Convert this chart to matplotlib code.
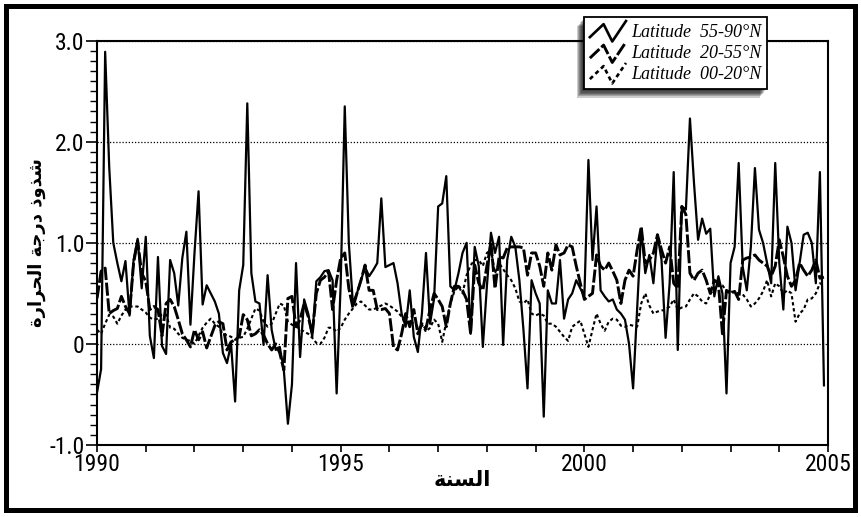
import matplotlib
matplotlib.use('Agg')
import matplotlib.pyplot as plt
import numpy as np
from matplotlib.lines import Line2D
from matplotlib.legend_handler import HandlerBase
from matplotlib.patches import Rectangle, Shadow
from matplotlib.ticker import FixedLocator, MultipleLocator
from matplotlib.font_manager import FontProperties

# ---------------- data (monthly anomalies, Jan 1990 - Dec 2004) ----------------
start_year = 1990
months_per_year = 12

lat_55_90 = [
    -0.48, -0.25, 2.89, 1.75, 1.00, 0.80, 0.62, 0.82, 0.28, 0.83, 1.04, 0.55,
    1.06, 0.08, -0.14, 0.86, -0.02, -0.10, 0.83, 0.70, 0.38, 0.85, 1.11, 0.19,
    0.90, 1.51, 0.39, 0.58, 0.50, 0.42, 0.30, -0.09, -0.19, 0.00, -0.57, 0.53,
    0.78, 2.38, 0.70, 0.42, 0.40, -0.01, 0.68, 0.14, -0.06, -0.03, -0.26, -0.79,
    -0.40, 0.80, -0.13, 0.44, 0.30, 0.07, 0.62, 0.66, 0.72, 0.73, 0.63, -0.49,
    0.60, 2.35, 1.00, 0.40, 0.50, 0.63, 0.76, 0.67, 0.73, 0.80, 1.44, 0.76,
    0.78, 0.80, 0.60, 0.30, 0.17, 0.53, 0.07, -0.08, 0.30, 0.90, 0.20, 0.45,
    1.36, 1.39, 1.66, 0.57, 0.53, 0.70, 0.90, 1.00, 0.10, 0.96, 0.77, -0.03,
    0.57, 1.10, 0.90, 1.06, -0.01, 0.83, 1.06, 0.96, 0.63, 0.14, -0.44, 0.63,
    0.50, 0.40, -0.72, 0.53, 0.40, 0.40, 0.83, 0.25, 0.44, 0.50, 0.63, 0.55,
    0.47, 1.82, 0.83, 1.36, 0.53, 0.47, 0.42, 0.44, 0.34, 0.30, 0.24, 0.00,
    -0.44, 0.34, 1.14, 0.70, 0.88, 0.60, 1.08, 0.83, 0.06, 0.60, 1.70, -0.06,
    1.36, 1.33, 2.23, 1.59, 1.03, 1.24, 1.09, 1.14, 0.47, 0.67, 0.50, -0.49,
    0.80, 0.96, 1.79, 0.76, 0.53, 0.96, 1.74, 1.13, 1.00, 0.80, 0.60, 1.79,
    0.80, 0.34, 1.16, 1.00, 0.53, 0.80, 1.08, 1.10, 1.00, 0.60, 1.70, -0.41,
]

lat_20_55 = [
    0.45, 0.72, 0.75, 0.30, 0.33, 0.35, 0.47, 0.37, 0.30, 0.80, 1.02, 0.70,
    0.62, 0.34, 0.37, 0.34, 0.08, 0.40, 0.44, 0.37, 0.24, 0.10, 0.04, -0.03,
    0.14, 0.04, 0.12, -0.04, 0.07, 0.18, 0.22, 0.20, -0.06, 0.02, 0.04, 0.07,
    0.29, 0.24, 0.08, 0.10, 0.14, 0.09, 0.00, -0.06, 0.00, -0.09, -0.26, 0.45,
    0.47, 0.17, 0.24, 0.40, 0.27, 0.10, 0.50, 0.63, 0.66, 0.72, 0.34, 0.63,
    0.85, 0.90, 0.55, 0.36, 0.50, 0.63, 0.78, 0.53, 0.53, 0.34, 0.34, 0.35,
    0.30, -0.03, -0.06, 0.10, 0.30, 0.17, 0.34, 0.10, 0.20, 0.15, 0.34, 0.50,
    0.44, 0.37, 0.17, 0.40, 0.57, 0.57, 0.53, 0.44, 0.10, 0.78, 0.60, 0.53,
    0.77, 1.00, 0.55, 0.86, 0.85, 0.95, 0.96, 0.96, 0.96, 0.95, 0.68, 0.90,
    0.90, 0.77, 0.57, 0.90, 0.73, 0.98, 0.88, 0.90, 0.98, 0.96, 0.77, 0.60,
    0.44, 0.47, 0.50, 0.88, 0.77, 0.73, 0.80, 0.72, 0.63, 0.40, 0.63, 0.73,
    0.67, 0.93, 1.16, 0.80, 0.83, 0.90, 1.08, 0.93, 0.80, 0.96, 0.60, 0.55,
    1.36, 1.28, 0.70, 0.63, 0.70, 0.73, 0.63, 0.50, 0.63, 0.60, 0.10, 0.53,
    0.50, 0.52, 0.44, 0.83, 0.85, 0.86, 0.88, 0.83, 0.80, 0.77, 0.67, 0.77,
    1.03, 0.86, 0.67, 0.57, 0.63, 0.80, 0.73, 0.67, 0.73, 0.83, 0.65, 0.66,
]

lat_00_20 = [
    0.14, 0.10, 0.20, 0.29, 0.27, 0.20, 0.28, 0.34, 0.37, 0.37, 0.37, 0.34,
    0.31, 0.26, 0.24, 0.25, 0.29, 0.29, 0.16, 0.15, 0.10, 0.06, 0.04, 0.03,
    0.00, 0.08, 0.16, 0.21, 0.25, 0.20, 0.17, 0.09, 0.09, 0.07, 0.04, 0.06,
    0.07, 0.15, 0.25, 0.35, 0.33, 0.22, 0.17, 0.20, 0.30, 0.40, 0.38, 0.22,
    0.19, 0.17, 0.15, 0.12, 0.10, 0.06, 0.01, 0.00, 0.06, 0.16, 0.16, 0.12,
    0.16, 0.24, 0.30, 0.35, 0.40, 0.42, 0.38, 0.34, 0.34, 0.36, 0.38, 0.40,
    0.38, 0.35, 0.32, 0.27, 0.20, 0.23, 0.20, 0.17, 0.19, 0.12, 0.16, 0.24,
    0.20, 0.02, 0.22, 0.40, 0.52, 0.57, 0.50, 0.68, 0.78, 0.83, 0.83, 0.77,
    0.90, 0.93, 0.70, 0.80, 0.74, 0.68, 0.63, 0.55, 0.42, 0.40, 0.44, 0.30,
    0.28, 0.30, 0.28, 0.20, 0.20, 0.17, 0.12, 0.07, 0.03, 0.17, 0.20, 0.23,
    0.10, -0.03, 0.14, 0.30, 0.20, 0.13, 0.22, 0.25, 0.24, 0.18, 0.17, 0.19,
    0.18, 0.17, 0.40, 0.50, 0.38, 0.30, 0.32, 0.33, 0.34, 0.37, 0.44, 0.34,
    0.36, 0.37, 0.44, 0.50, 0.47, 0.42, 0.40, 0.49, 0.55, 0.60, 0.58, 0.52,
    0.52, 0.51, 0.50, 0.49, 0.44, 0.37, 0.40, 0.45, 0.52, 0.63, 0.47, 0.60,
    0.57, 0.50, 0.53, 0.50, 0.22, 0.30, 0.34, 0.44, 0.45, 0.50, 0.60, 0.58,
]

series_labels = ['Latitude  55-90°N', 'Latitude  20-55°N', 'Latitude  00-20°N']
x_ticks = [1990, 1995, 2000, 2005]
x_tick_labels = ['1990', '1995', '2000', '2005']
y_ticks = [-1.0, 0.0, 1.0, 2.0, 3.0]
y_tick_labels = ['-1.0', '0', '1.0', '2.0', '3.0']
x_label = 'السنة'
y_label = 'شذوذ درجة الحرارة'

# ---------------- simple Arabic shaping (matplotlib has no complex text layout) ----------------
FORMS = {  # isolated, final, initial, medial
    '\u0627': ('\uFE8D', '\uFE8E', None, None),
    '\u0629': ('\uFE93', '\uFE94', None, None),
    '\u062C': ('\uFE9D', '\uFE9E', '\uFE9F', '\uFEA0'),
    '\u062D': ('\uFEA1', '\uFEA2', '\uFEA3', '\uFEA4'),
    '\u062F': ('\uFEA9', '\uFEAA', None, None),
    '\u0630': ('\uFEAB', '\uFEAC', None, None),
    '\u0631': ('\uFEAD', '\uFEAE', None, None),
    '\u0633': ('\uFEB1', '\uFEB2', '\uFEB3', '\uFEB4'),
    '\u0634': ('\uFEB5', '\uFEB6', '\uFEB7', '\uFEB8'),
    '\u0644': ('\uFEDD', '\uFEDE', '\uFEDF', '\uFEE0'),
    '\u0646': ('\uFEE5', '\uFEE6', '\uFEE7', '\uFEE8'),
    '\u0648': ('\uFEED', '\uFEEE', None, None),
}


def shape_arabic(text):
    out = []
    for i, ch in enumerate(text):
        f = FORMS.get(ch)
        if f is None:
            out.append(ch)
            continue
        prev = text[i - 1] if i > 0 else ''
        nxt = text[i + 1] if i + 1 < len(text) else ''
        join_prev = prev in FORMS and FORMS[prev][2] is not None
        join_next = f[2] is not None and nxt in FORMS
        if join_prev and join_next:
            out.append(f[3])
        elif join_prev:
            out.append(f[1])
        elif join_next:
            out.append(f[2])
        else:
            out.append(f[0])
    return ''.join(reversed(out))


class ZigzagHandler(HandlerBase):
    def create_artists(self, legend, orig_handle, xdescent, ydescent,
                       width, height, fontsize, trans):
        xs = np.array([0.0, 0.38, 0.62, 1.0]) * width - xdescent
        ys = np.array([0.15, 0.9, -0.1, 1.08]) * height - ydescent
        ln = Line2D(xs, ys)
        ln.update_from(orig_handle)
        ln.set_data(xs, ys)
        ln.set_linewidth(max(1.9, orig_handle.get_linewidth()))
        ln.set_clip_on(False)
        ln.set_clip_box(None)
        ln.set_clip_path(None)
        ln.set_transform(trans)
        return [ln]


# ---------------- figure ----------------
fig = plt.figure(figsize=(8.61, 5.17), dpi=100)
ax = fig.add_axes([0.1127, 0.1393, 0.849, 0.782])

t = start_year + np.arange(len(lat_55_90)) / months_per_year

l1, = ax.plot(t, lat_55_90, color='black', lw=1.6)
l2, = ax.plot(t, lat_20_55, color='black', lw=2.1, linestyle=(0, (4.5, 0.9)))
l3, = ax.plot(t, lat_00_20, color='black', lw=1.5, linestyle=(0, (1.6, 1.3)))

ax.set_xlim(1990, 2005)
ax.set_ylim(-1.0, 3.0)

ax.xaxis.set_major_locator(FixedLocator(x_ticks))
ax.xaxis.set_minor_locator(MultipleLocator(1))
ax.set_xticklabels(x_tick_labels)
ax.yaxis.set_major_locator(FixedLocator(y_ticks))
ax.yaxis.set_minor_locator(MultipleLocator(0.1))
ax.set_yticklabels(y_tick_labels)

tick_font = ['Roboto Condensed', 'Open Sans Condensed', 'DejaVu Sans']
for lab in ax.get_xticklabels() + ax.get_yticklabels():
    lab.set_family(tick_font)
    lab.set_stretch('condensed')
    lab.set_fontsize(17)

ax.tick_params(axis='x', which='both', direction='out', length=5, width=1.2, pad=0.5)
ax.tick_params(axis='y', which='major', direction='out', length=8, width=1.2, pad=1)
ax.tick_params(axis='y', which='minor', direction='out', length=5, width=1.0)

ax.yaxis.grid(True, which='major', linestyle=(0, (1, 1.5)), color='black', lw=0.9)
for s in ax.spines.values():
    s.set_linewidth(1.5)

ax.set_xlabel(shape_arabic(x_label), fontsize=15, family='DejaVu Sans', fontweight='bold')
ax.xaxis.set_label_coords(0.5, -0.062)
ax.set_ylabel(shape_arabic(y_label), fontsize=13, family='DejaVu Sans', fontweight='bold')
ax.yaxis.set_label_coords(-0.07, 0.5)

leg = ax.legend([l1, l2, l3], series_labels, loc='upper right',
                bbox_to_anchor=(0.9166, 1.0586), borderaxespad=0,
                frameon=True, fancybox=False, edgecolor='black', framealpha=1,
                shadow=False,
                handler_map={Line2D: ZigzagHandler()},
                prop=FontProperties(family='Liberation Serif', style='italic', size=13),
                handlelength=2.0, handleheight=1.1, handletextpad=0.3,
                labelspacing=0.12, borderpad=0.3)
leg.get_frame().set_linewidth(1.3)
leg.set_zorder(10)

fig.add_artist(Rectangle((0.0067, 0.0126), 0.9858, 0.9762, transform=fig.transFigure,
                         fill=False, edgecolor='black', lw=3.6))

# soft (layered) drop shadow for the legend box, offset to lower-left
fig.canvas.draw()
for k in range(1, 8):
    sh = Shadow(leg.legendPatch, -0.75 * k, -0.95 * k, shade=1.0, alpha=0.2)
    sh.set_linewidth(0)
    sh.set_zorder(9.5)
    sh.set_clip_on(False)
    ax.add_artist(sh)

fig.savefig('out.png', dpi=100)
